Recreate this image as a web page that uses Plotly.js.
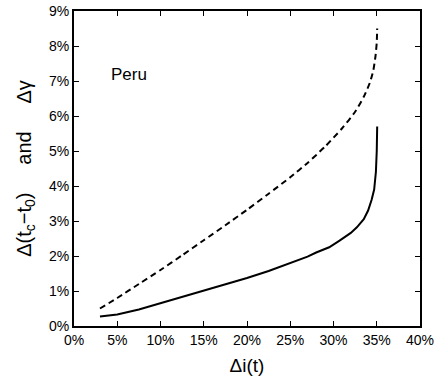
<!DOCTYPE html>
<html>
<head>
<meta charset="utf-8">
<script src="https://cdn.plot.ly/plotly-3.0.1.min.js"></script>
<style>
  html, body { margin: 0; padding: 0; background: #fff; }
  #chart { width: 436px; height: 382px; }
</style>
</head>
<body>
<div id="chart"></div>
<script>
// delta i(t), in percent
const gammaX = [3, 5, 7.5, 10, 12.5, 15, 17.5, 20, 22.5, 25, 27, 29, 31, 32.5, 33.5, 34.2, 34.6, 34.85, 35, 35.05];
// delta gamma (dashed), in percent
const gammaY = [0.5, 0.8, 1.2, 1.6, 2.02, 2.45, 2.88, 3.32, 3.78, 4.25, 4.66, 5.12, 5.65, 6.12, 6.55, 6.95, 7.3, 7.7, 8.1, 8.5];

// delta (tc - t0) (solid), in percent
const tcX = [3, 4, 5, 7.5, 10, 12.5, 15, 17.5, 20, 22.5, 25, 27, 28, 28.5, 29.5, 30.7, 32, 32.7, 33.5, 34, 34.4, 34.7, 34.9, 35, 35.05];
const tcY = [0.27, 0.29, 0.33, 0.47, 0.65, 0.83, 1.0, 1.18, 1.37, 1.57, 1.79, 1.98, 2.1, 2.15, 2.25, 2.44, 2.66, 2.82, 3.05, 3.3, 3.6, 3.9, 4.4, 5.0, 5.7];

const xTicks = [0, 5, 10, 15, 20, 25, 30, 35, 40];
const yTicks = [0, 1, 2, 3, 4, 5, 6, 7, 8, 9];

const font = 'Liberation Sans, Arial, Helvetica, sans-serif';
const gap = '\u00a0'.repeat(5);

const data = [
    {
        x: gammaX, y: gammaY,
        type: 'scatter', mode: 'lines',
        line: { color: 'black', width: 2, dash: '6px,4px', shape: 'spline', smoothing: 0.6 },
        hoverinfo: 'none'
    },
    {
        x: tcX, y: tcY,
        type: 'scatter', mode: 'lines',
        line: { color: 'black', width: 2 },
        hoverinfo: 'none'
    }
];

const axisCommon = {
    showgrid: false,
    zeroline: false,
    showline: true,
    linecolor: 'black',
    linewidth: 2,
    mirror: 'ticks',
    ticks: 'inside',
    ticklen: 5,
    tickwidth: 1,
    tickcolor: 'black',
    tickfont: { family: font, size: 14, color: 'black' },
    tickmode: 'array'
};

const layout = {
    width: 436,
    height: 382,
    margin: { l: 74, r: 16, t: 11, b: 56 },
    paper_bgcolor: 'white',
    plot_bgcolor: 'white',
    showlegend: false,
    font: { family: font, color: 'black' },
    xaxis: Object.assign({}, axisCommon, {
        range: [0, 40],
        tickvals: xTicks,
        ticktext: xTicks.map(v => v + '%'),
        title: { text: 'Δi(t)', font: { family: font, size: 19 }, standoff: 12 }
    }),
    yaxis: Object.assign({}, axisCommon, {
        range: [0, 9],
        tickvals: yTicks,
        ticktext: yTicks.map(v => v + '%'),
        title: {
            text: 'Δ(t<sub>c</sub>−t<sub>0</sub>)' + gap + 'and' + gap + 'Δγ',
            font: { family: font, size: 20 },
            standoff: 12
        }
    }),
    annotations: [
        {
            text: 'Peru',
            x: 4.0, y: 7.2,
            xref: 'x', yref: 'y',
            xanchor: 'left', yanchor: 'middle',
            showarrow: false,
            font: { family: font, size: 17, color: 'black' }
        }
    ]
};

Plotly.newPlot('chart', data, layout, { displayModeBar: false, staticPlot: true });
</script>
</body>
</html>
